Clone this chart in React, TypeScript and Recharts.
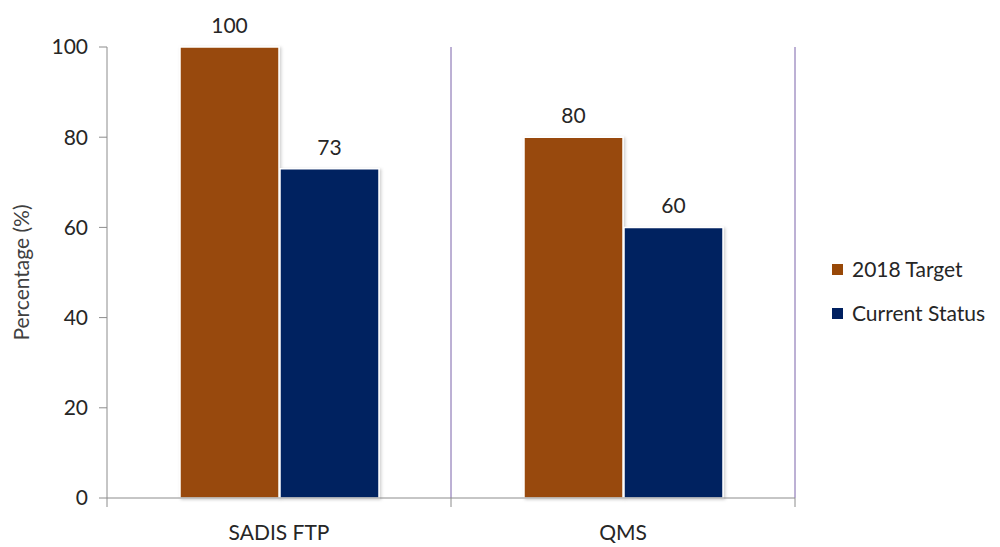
import React from 'react';
import { BarChart, Bar, XAxis, YAxis, CartesianGrid, LabelList } from 'recharts';

const categories = ['SADIS FTP', 'QMS'];
const target2018 = [100, 80];
const currentStatus = [73, 60];
const seriesNames = ['2018 Target', 'Current Status'];
const seriesColors = ['#984807', '#002060'];
const yTicks = [0, 20, 40, 60, 80, 100];

const data = categories.map((c, i) => ({ name: c, target: target2018[i], current: currentStatus[i] }));

const FONT = 'Lato, "Open Sans", sans-serif';
const TXT = '#262626';
const FS = 21;
const AXIS = '#8c8c8c';

const CatTick = (props: any) => {
  const { x, y, payload, index, visibleTicksCount } = props;
  const half = payload && payload.offset ? payload.offset : 0;
  const isLast = index === (visibleTicksCount ? visibleTicksCount - 1 : categories.length - 1);
  return (
    <g>
      <line x1={x - half} x2={x - half} y1={y} y2={y + 9} stroke={AXIS} />
      {isLast && <line x1={x + half} x2={x + half} y1={y} y2={y + 9} stroke={AXIS} />}
      <text x={x} y={y + 42} textAnchor="middle" fill={TXT} fontSize={FS} fontFamily={FONT}>
        {payload.value}
      </text>
    </g>
  );
};

const gridX = ({ offset }: any) => [offset.left + offset.width / 2, offset.left + offset.width];

export default function App() {
  return (
    <div style={{ position: 'absolute', left: 0, top: 0, width: 1000, height: 547, background: '#fff', fontFamily: FONT }}>
      <BarChart
        width={1000}
        height={547}
        data={data}
        margin={{ top: 47, right: 205, bottom: 9, left: 0 }}
        barCategoryGap={73}
        barGap={1}
      >
        <defs>
          <filter id="sh" x="-10%" y="-10%" width="130%" height="130%">
            <feDropShadow dx="1.5" dy="1" stdDeviation="1.5" floodColor="#000" floodOpacity="0.2" />
          </filter>
        </defs>
        <CartesianGrid horizontal={false} vertical={true} verticalCoordinatesGenerator={gridX} stroke="#7A62AA" strokeWidth={1} />
        <XAxis
          dataKey="name"
          axisLine={{ stroke: AXIS }}
          tickLine={false}
          tickSize={0}
          tickMargin={0}
          height={40}
          interval={0}
          tick={<CatTick />}
        />
        <YAxis
          domain={[0, 100]}
          ticks={yTicks}
          width={107}
          tickSize={8}
          axisLine={{ stroke: AXIS }}
          tickLine={{ stroke: AXIS }}
          tick={{ fill: TXT, fontSize: FS, fontFamily: FONT, dx: -9 }}
          label={{ value: 'Percentage (%)', angle: -90, position: 'insideLeft', offset: 22, style: { fill: '#404040', fontSize: FS, fontFamily: FONT, textAnchor: 'middle' } }}
        />
        <Bar dataKey="target" name={seriesNames[0]} fill={seriesColors[0]} stroke="#fff" strokeWidth={1.5} filter="url(#sh)" isAnimationActive={false}>
          <LabelList dataKey="target" position="top" offset={14} style={{ fill: TXT, fontSize: FS, fontFamily: FONT }} />
        </Bar>
        <Bar dataKey="current" name={seriesNames[1]} fill={seriesColors[1]} stroke="#fff" strokeWidth={1.5} filter="url(#sh)" isAnimationActive={false}>
          <LabelList dataKey="current" position="top" offset={14} style={{ fill: TXT, fontSize: FS, fontFamily: FONT }} />
        </Bar>
      </BarChart>
      <div style={{ position: 'absolute', left: 832, top: 257, fontSize: FS, color: TXT, lineHeight: '24px' }}>
        {seriesNames.map((n, i) => (
          <div key={n} style={{ display: 'flex', alignItems: 'center', height: 24, marginBottom: i === 0 ? 20 : 0 }}>
            <span style={{ display: 'inline-block', width: 11, height: 11, background: seriesColors[i], marginRight: 9 }} />
            <span>{n}</span>
          </div>
        ))}
      </div>
    </div>
  );
}
